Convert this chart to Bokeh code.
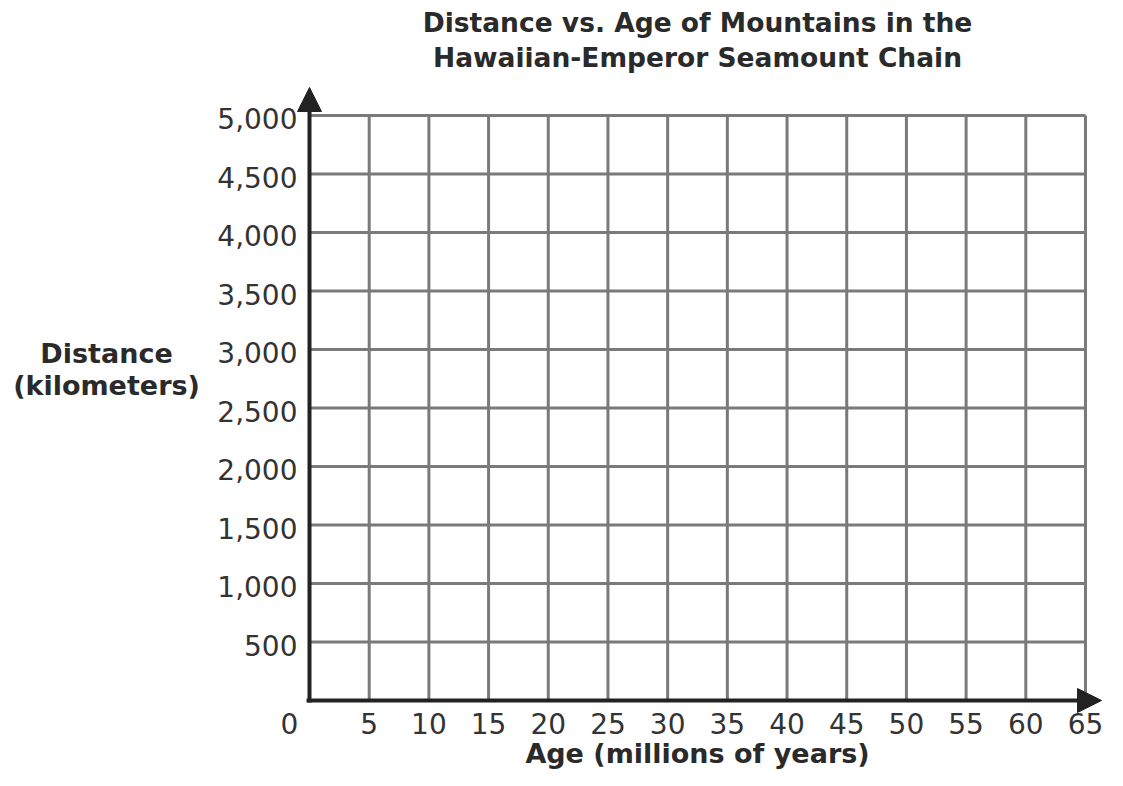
from bokeh.plotting import figure
from bokeh.models import Range1d, Arrow, NormalHead
from bokeh.core.properties import value
from bokeh.embed import file_html
from bokeh.resources import INLINE

# ---- data ----
x_ticks = [5, 10, 15, 20, 25, 30, 35, 40, 45, 50, 55, 60, 65]
x_tick_labels = ["5", "10", "15", "20", "25", "30", "35", "40", "45", "50", "55", "60", "65"]
y_ticks = [500, 1000, 1500, 2000, 2500, 3000, 3500, 4000, 4500, 5000]
y_tick_labels = ["500", "1,000", "1,500", "2,000", "2,500", "3,000", "3,500", "4,000", "4,500", "5,000"]
origin_label = "0"
x_min, x_max = 0, 65
y_min, y_max = 0, 5000
title_lines = ["Distance vs. Age of Mountains in the", "Hawaiian-Emperor Seamount Chain"]
y_title_lines = ["Distance", "(kilometers)"]
x_title = "Age (millions of years)"

# ---- layout (pixel geometry of the canvas) ----
W, H = 1107, 770
PX_X0, PX_X1 = 309, 1085     # canvas x of x_min, x_max
PX_Y0, PX_Y1 = 700, 115      # canvas y of y_min, y_max
SX = (PX_X1 - PX_X0) / float(x_max - x_min)
SY = (PX_Y0 - PX_Y1) / float(y_max - y_min)
BASE_FIX = 10                # rendered baseline sits this many px below the anchor


def dx(px):   # canvas pixel x -> data x
    return x_min + (px - PX_X0) / SX


def dy(py):   # canvas pixel y -> data y
    return y_min + (PX_Y0 - py) / SY


def tb(py):   # wanted text baseline (canvas px) -> data y of anchor
    return dy(py - BASE_FIX)


p = figure(width=W, height=H, output_backend="svg", toolbar_location=None,
           x_range=Range1d(dx(0), dx(W)),
           y_range=Range1d(dy(H), dy(0)),
           min_border=0, min_border_left=0, min_border_right=0,
           min_border_top=0, min_border_bottom=0)
p.axis.visible = False
p.grid.visible = False
p.outline_line_color = None
p.background_fill_color = "white"
p.border_fill_color = "white"

GRID = "#7a7a7a"
AXIS = "#222222"
TXT = "#333333"
BOLD = "#2a2a2a"
FONT = value("DejaVu Sans")

# grid lines
p.segment(x0=x_ticks, y0=[y_min] * len(x_ticks), x1=x_ticks, y1=[y_max] * len(x_ticks),
          line_color=GRID, line_width=3)
p.segment(x0=[x_min] * len(y_ticks), y0=y_ticks, x1=[x_max] * len(y_ticks), y1=y_ticks,
          line_color=GRID, line_width=3)

# axes with arrows
x_tip = dx(1105)
y_tip = dy(PX_Y1 - 32)
p.add_layout(Arrow(end=NormalHead(size=24, fill_color=AXIS, line_color=AXIS, line_width=1),
                   x_start=x_min, y_start=y_min, x_end=x_tip - 4 / SX, y_end=y_min,
                   line_color=AXIS, line_width=4))
p.add_layout(Arrow(end=NormalHead(size=24, fill_color=AXIS, line_color=AXIS, line_width=1),
                   x_start=x_min, y_start=y_min, x_end=x_min, y_end=y_tip - 4 / SY,
                   line_color=AXIS, line_width=4))
p.segment(x0=[dx(PX_X0 - 3)], y0=[y_min], x1=[x_min], y1=[y_min], line_color=AXIS, line_width=4)
p.segment(x0=[x_min], y0=[dy(PX_Y0 + 2)], x1=[x_min], y1=[y_min], line_color=AXIS, line_width=4)

# tick labels
tick_base = tb(PX_Y0 + 33)
p.text(x=x_ticks, y=[tick_base] * len(x_ticks), text=x_tick_labels,
       text_align="center", text_baseline="alphabetic",
       text_font=FONT, text_font_size="28px", text_color=TXT)
p.text(x=[dx(PX_X0 - 12)] * len(y_ticks), y=[t - (13 - BASE_FIX) / SY for t in y_ticks],
       text=y_tick_labels, text_align="right", text_baseline="alphabetic",
       text_font=FONT, text_font_size="28px", text_color=TXT)
p.text(x=[dx(PX_X0 - 20)], y=[tick_base], text=[origin_label],
       text_align="center", text_baseline="alphabetic",
       text_font=FONT, text_font_size="28px", text_color=TXT)

# titles
xmid = (x_min + x_max) / 2.0
p.text(x=[xmid, xmid], y=[tb(32), tb(67)], text=title_lines,
       text_align="center", text_baseline="alphabetic",
       text_font=FONT, text_font_style="bold", text_font_size="26.5px", text_color=BOLD)
y_mid = (y_min + y_max) / 2.0 + (y_ticks[1] - y_ticks[0])
p.text(x=[dx(106), dx(106)], y=[y_mid - (14 - BASE_FIX) / SY, y_mid - (46 - BASE_FIX) / SY],
       text=y_title_lines, text_align="center", text_baseline="alphabetic",
       text_font=FONT, text_font_style="bold", text_font_size="27px", text_color=BOLD)
p.text(x=[xmid], y=[tb(763)], text=[x_title],
       text_align="center", text_baseline="alphabetic",
       text_font=FONT, text_font_style="bold", text_font_size="27px", text_color=BOLD)

open("out.html", "w").write(file_html(p, INLINE))
